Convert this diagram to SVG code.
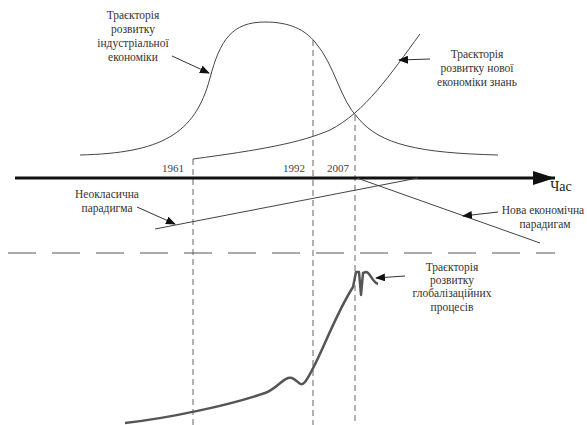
<svg xmlns="http://www.w3.org/2000/svg" width="587" height="425" viewBox="0 0 587 425">
<defs>
<marker id="ah" markerWidth="10" markerHeight="8" refX="9" refY="4" orient="auto" markerUnits="userSpaceOnUse">
<path d="M0,0 L10,4 L0,8 Z" fill="#111"/>
</marker>
<marker id="axh" markerWidth="24" markerHeight="14" refX="22" refY="7" orient="auto" markerUnits="userSpaceOnUse">
<path d="M0,0 L22,7 L0,14 Z" fill="#111"/>
</marker>
</defs>
<style>
.t{font-family:"Liberation Serif","Tinos","Noto Serif","DejaVu Serif","FreeSerif","Times New Roman",serif;font-size:11.5px;fill:#333;text-anchor:middle}
.y{font-family:"Liberation Serif","Times New Roman",serif;font-size:11px;fill:#444}
.c{fill:none;stroke:#444;stroke-width:1}
.d{fill:none;stroke:#666;stroke-width:1;stroke-dasharray:6,4}
.a{fill:none;stroke:#333;stroke-width:1;marker-end:url(#ah)}
</style>
<rect width="587" height="425" fill="#fff"/>

<g id="guides">
<line class="d" x1="193" y1="159" x2="193" y2="425"/>
<line class="d" x1="313" y1="40" x2="313" y2="425"/>
<line class="d" x1="355" y1="115" x2="355" y2="425"/>
<line x1="8" y1="253" x2="555" y2="253" stroke="#555" stroke-width="1.2" stroke-dasharray="28,16"/>
</g>

<g id="axis">
<line x1="15" y1="178" x2="555" y2="178" stroke="#111" stroke-width="3" marker-end="url(#axh)"/>
<text class="t" x="561" y="191" style="font-size:14px;fill:#222">Час</text>
<text class="y" x="162" y="172">1961</text>
<text class="y" x="283" y="172">1992</text>
<text class="y" x="327" y="172">2007</text>
</g>

<g id="industrial">
<path class="c" d="M80,155 C160,153 195,135 210,78 C220,40 232,22 265,22 C290,22 305,30 315,42 C335,65 340,100 358,118 C380,145 420,153 498,155"/>
<text class="t" x="133" y="19">Траєкторія</text>
<text class="t" x="133" y="33">розвитку</text>
<text class="t" x="133" y="47">індустріальної</text>
<text class="t" x="133" y="61">економіки</text>
</g>

<g id="knowledge">
<path class="c" d="M193,159 C260,150 300,143 330,130 C365,112 390,75 420,34"/>
<text class="t" x="477" y="58">Траєкторія</text>
<text class="t" x="477" y="72">розвитку нової</text>
<text class="t" x="477" y="86">економіки знань</text>
</g>

<g id="neoclassic">
<line class="c" x1="155" y1="229" x2="418" y2="178"/>
<text class="t" x="107" y="198">Неокласична</text>
<text class="t" x="107" y="212">парадигма</text>
</g>

<g id="newparadigm">
<line class="c" x1="357" y1="178" x2="540" y2="243"/>
<text class="t" x="543" y="214">Нова економічна</text>
<text class="t" x="545" y="228">парадигам</text>
</g>

<g id="global">
<path d="M125,423 C170,418 230,405 265,393 C278,388 284,376 292,378 C298,380 300,388 305,382 C318,365 333,318 353,287 L356,272 L359,272 L361,295 L363,273 L366,272 C370,272 372,282 378,284" fill="none" stroke="#555" stroke-width="2.5" stroke-linejoin="round"/>
<text class="t" x="452" y="271">Траєкторія</text>
<text class="t" x="452" y="284">розвитку</text>
<text class="t" x="452" y="297">глобалізаційних</text>
<text class="t" x="452" y="311">процесів</text>
</g>

<g id="connectors">
<line class="a" x1="172" y1="56" x2="209" y2="73"/>
<line class="a" x1="430" y1="59" x2="399" y2="60"/>
<line class="a" x1="137" y1="207" x2="175" y2="224"/>
<line class="a" x1="498" y1="212" x2="463" y2="216"/>
<line class="a" x1="405" y1="276" x2="376" y2="278"/>
</g>
</svg>
